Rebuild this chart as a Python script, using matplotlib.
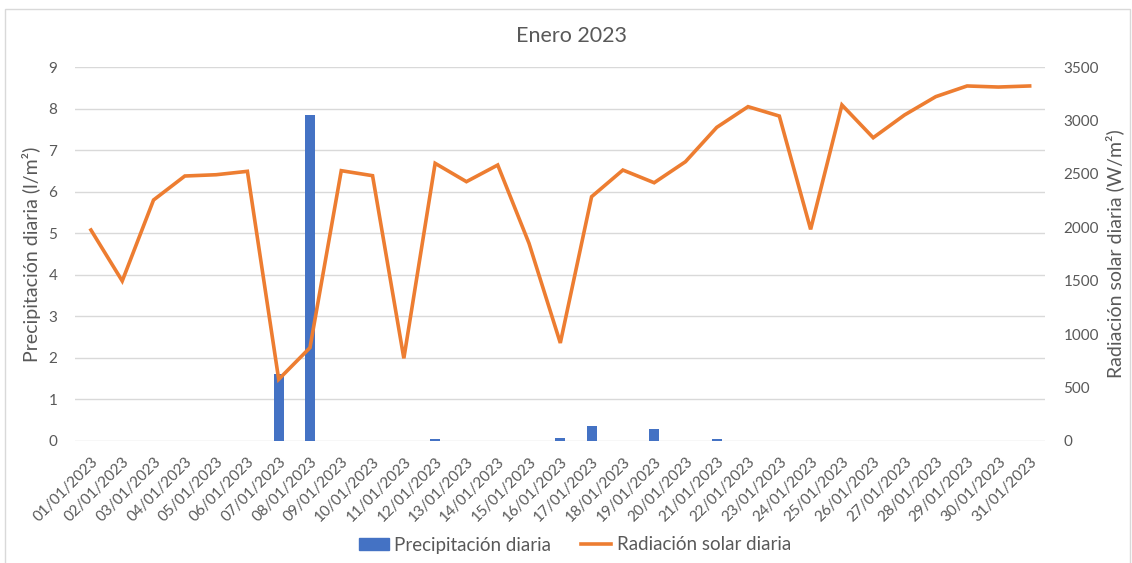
import matplotlib
matplotlib.use("Agg")
import matplotlib.pyplot as plt
from matplotlib.patches import Rectangle
from matplotlib.lines import Line2D
import numpy as np

plt.rcParams['font.family'] = ['Lato', 'DejaVu Sans']

TXT = "#595959"
GRID = "#D9D9D9"
BLUE = "#4472C4"
ORANGE = "#ED7D31"

fechas = [f"{d:02d}/01/2023" for d in range(1, 32)]
precipitacion = [0, 0, 0, 0, 0, 0, 1.61, 7.86, 0, 0, 0, 0.05, 0, 0, 0, 0.07,
                 0.35, 0, 0.27, 0, 0.04, 0, 0, 0, 0, 0, 0, 0, 0, 0, 0]
radiacion = [1975, 1497, 2256, 2481, 2493, 2525, 575, 872, 2531, 2484, 772,
             2600, 2428, 2584, 1850, 916, 2287, 2537, 2418, 2615, 2937, 3131,
             3043, 1981, 3147, 2840, 3053, 3225, 3325, 3315, 3325]

fig = plt.figure(figsize=(11.32, 5.63), dpi=100)
fig.patches.append(Rectangle((5 / 1132, -0.1), 1125 / 1132, 1 - 9 / 563 + 0.1,
                             transform=fig.transFigure, fill=False,
                             edgecolor=GRID, lw=1))

ax = fig.add_axes([75.3 / 1132, 1 - 440.7 / 563, 970 / 1132, 373.4 / 563])
x = np.arange(len(fechas))
ax.bar(x, precipitacion, width=0.32, color=BLUE, zorder=2)
ax.set_ylim(0, 9)
ax.set_yticks(range(0, 10))
ax.set_xlim(-0.5, len(fechas) - 0.5)
ax.set_xticks(x)
ax.set_xticklabels(fechas, rotation=45, ha="right", rotation_mode="anchor",
                   fontsize=11.5, color=TXT)
ax.grid(axis="y", color=GRID, lw=1, zorder=0)
ax.set_axisbelow(True)
for s in ax.spines.values():
    s.set_visible(False)
ax.tick_params(axis="both", length=0, labelsize=11, colors=TXT)
ax.tick_params(axis="x", pad=10)
ax.tick_params(axis="y", pad=13)
ax.set_ylabel("Precipitación diaria (l/m²)", fontsize=14, color=TXT, labelpad=5)

ax2 = ax.twinx()
ax2.plot(x, radiacion, color=ORANGE, lw=2.6, solid_joinstyle="miter", zorder=3)
ax2.set_ylim(0, 3500)
ax2.set_yticks(range(0, 3501, 500))
for s in ax2.spines.values():
    s.set_visible(False)
ax2.tick_params(axis="y", length=0, labelsize=11, colors=TXT, pad=13)
ax2.set_ylabel("Radiación solar diaria (W/m²)", fontsize=14, color=TXT, labelpad=5)

fig.text(572 / 1132, 1 - 36 / 563, "Enero 2023", ha="center", va="center",
         fontsize=15.5, color=TXT)

handles = [Rectangle((0, 0), 1, 1, color=BLUE),
           Line2D([0], [0], color=ORANGE, lw=2.6)]
fig.legend(handles, ["Precipitación diaria", "Radiación solar diaria"],
           loc="center", bbox_to_anchor=(575 / 1132, 1 - 545 / 563), ncol=2,
           frameon=False, fontsize=13.5, labelcolor=TXT, handlelength=1.6,
           handleheight=0.55, handletextpad=0.3, columnspacing=1.6)

fig.savefig("out.png", dpi=100)
